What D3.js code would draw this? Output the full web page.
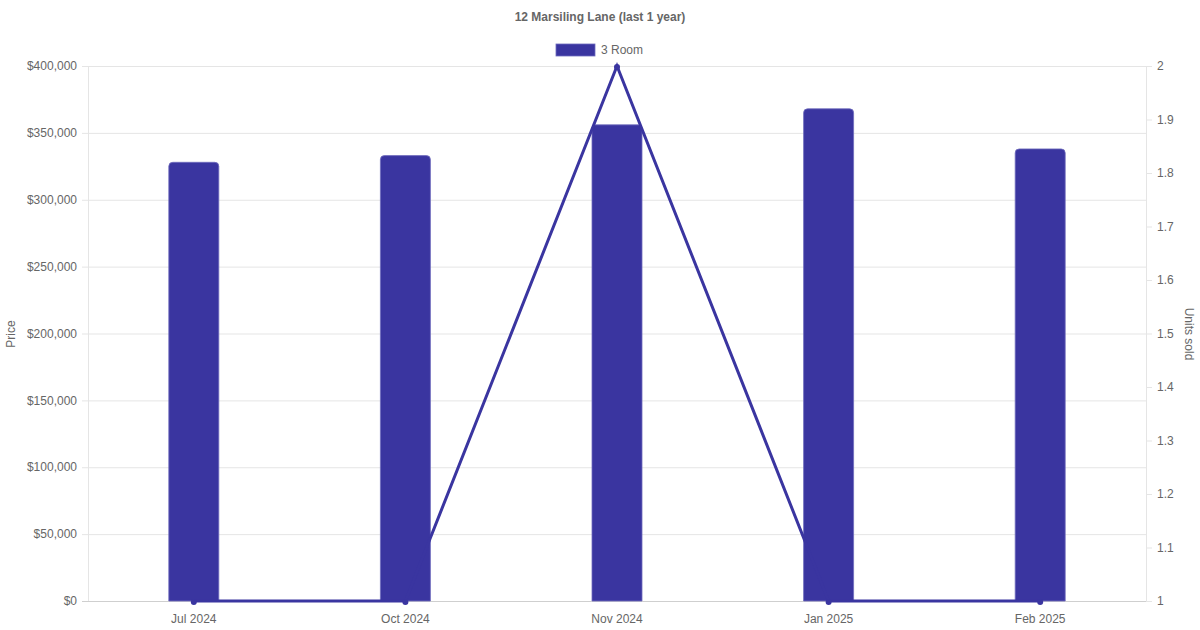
<!DOCTYPE html>
<html><head><meta charset="utf-8">
<script src="https://cdn.jsdelivr.net/npm/d3@7/dist/d3.min.js"></script>
<style>body{margin:0;background:#fff}svg{display:block}text{font-family:"Liberation Sans",Arial,sans-serif}</style>
</head><body><svg id="c" width="1200" height="630"></svg>
<script>
const categories = ["Jul 2024","Oct 2024","Nov 2024","Jan 2025","Feb 2025"];
const prices = [328000, 333000, 356000, 368000, 338000];
const units = [1, 1, 2, 1, 1];
const priceTicks = [0,50000,100000,150000,200000,250000,300000,350000,400000];
const unitTicks = [1,1.1,1.2,1.3,1.4,1.5,1.6,1.7,1.8,1.9,2];
const seriesName = "3 Room";
const title = "12 Marsiling Lane (last 1 year)";

const color = "#3a35a0";
const svg = d3.select("#c");
const L = 88, R = 1146, T = 66, B = 601;
const x = d3.scaleBand().domain(categories).range([L, R]);
const yL = d3.scaleLinear().domain([0, 400000]).range([B, T]);
const yR = d3.scaleLinear().domain([1, 2]).range([B, T]);
const gridC = "#e5e5e5", txtC = "#666";

// grid
svg.append("g").selectAll("line").data(priceTicks).join("line")
  .attr("x1", L-6).attr("x2", R).attr("y1", d=>yL(d)+0.5).attr("y2", d=>yL(d)+0.5)
  .attr("stroke", d=>d===0?"#cfcfcf":gridC).attr("stroke-width",1);
// axis lines
svg.append("line").attr("x1",L+0.5).attr("x2",L+0.5).attr("y1",T).attr("y2",B).attr("stroke",gridC);
svg.append("line").attr("x1",R+0.5).attr("x2",R+0.5).attr("y1",T).attr("y2",B).attr("stroke",gridC);
// right ticks
svg.append("g").selectAll("line").data(unitTicks).join("line")
  .attr("x1",R).attr("x2",R+6).attr("y1",d=>yR(d)+0.5).attr("y2",d=>yR(d)+0.5).attr("stroke",gridC);

// tick labels
const fmt = d3.format(",");
svg.append("g").selectAll("text").data(priceTicks).join("text")
  .attr("x", L-11).attr("y", d=>yL(d)).attr("dy","0.35em").attr("text-anchor","end")
  .attr("font-size",12).attr("fill",txtC).text(d=>"$"+fmt(d));
svg.append("g").selectAll("text").data(unitTicks).join("text")
  .attr("x", R+11).attr("y", d=>yR(d)).attr("dy","0.35em").attr("text-anchor","start")
  .attr("font-size",12).attr("fill",txtC).text(d=>d3.format("~g")(d));
svg.append("g").selectAll("text").data(categories).join("text")
  .attr("x", d=>x(d)+x.bandwidth()/2).attr("y", 619).attr("dy","0.35em").attr("text-anchor","middle")
  .attr("font-size",12).attr("fill",txtC).text(d=>d);

// axis titles
svg.append("text").attr("transform",`translate(15,334) rotate(-90)`).attr("text-anchor","middle")
  .attr("font-size",12).attr("fill",txtC).text("Price");
svg.append("text").attr("transform",`translate(1185,334) rotate(90)`).attr("text-anchor","middle")
  .attr("font-size",12).attr("fill",txtC).text("Units sold");

// title
svg.append("text").attr("x",600).attr("y",17).attr("dy","0.35em").attr("text-anchor","middle")
  .attr("font-size",12).attr("font-weight","bold").attr("fill",txtC).text(title);
// legend
svg.append("rect").attr("x",556).attr("y",44).attr("width",39).attr("height",12).attr("fill",color)
  .attr("stroke","#6e6bbd").attr("stroke-width",0.8);
svg.append("text").attr("x",601).attr("y",50).attr("dy","0.35em").attr("font-size",12).attr("fill",txtC).text(seriesName);

// bars
const bw = 50, r = 4;
function barPath(cx, yTop, yBot){
  const x0 = cx - bw/2, x1 = cx + bw/2;
  return `M${x0},${yBot} L${x0},${yTop+r} Q${x0},${yTop} ${x0+r},${yTop} L${x1-r},${yTop} Q${x1},${yTop} ${x1},${yTop+r} L${x1},${yBot} Z`;
}
svg.append("g").selectAll("path").data(prices).join("path")
  .attr("d",(d,i)=>barPath(x(categories[i])+x.bandwidth()/2, yL(d), yL(0)))
  .attr("fill",color).attr("stroke","#6e6bbd").attr("stroke-width",0.8);

// line
const line = d3.line().x((d,i)=>x(categories[i])+x.bandwidth()/2).y(d=>yR(d));
svg.append("path").datum(units).attr("d",line).attr("fill","none").attr("stroke",color).attr("stroke-width",3);
svg.append("g").selectAll("circle").data(units).join("circle")
  .attr("cx",(d,i)=>x(categories[i])+x.bandwidth()/2).attr("cy",d=>yR(d)+1).attr("r",3).attr("fill",color);
</script></body></html>
